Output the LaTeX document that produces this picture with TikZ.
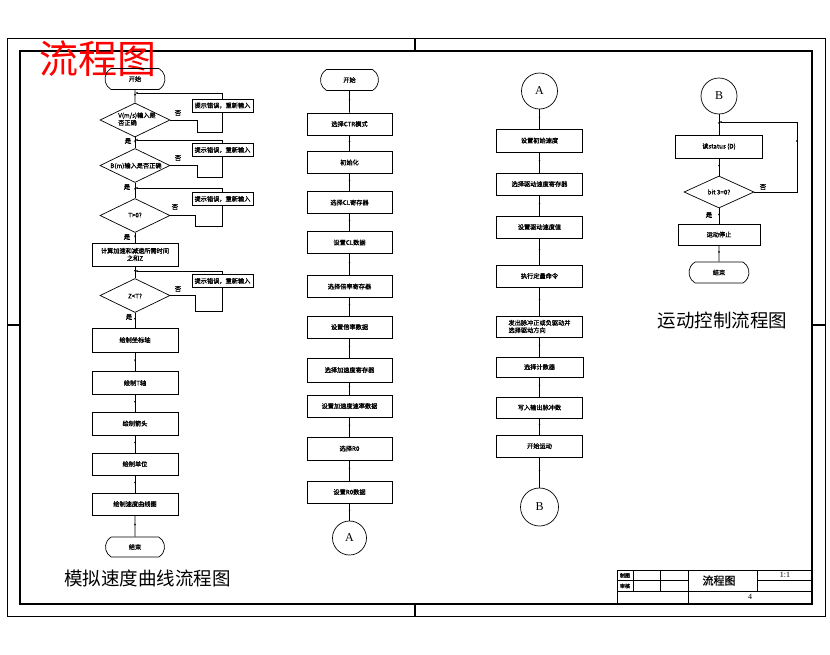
\documentclass[tikz,border=0pt]{standalone}
\usepackage{fontspec}
\setmainfont{Noto Sans CJK SC}
\newfontfamily\cjkb{Noto Sans CJK SC}[FakeBold=1.2]
\newfontfamily\serifA{Liberation Serif}
\usetikzlibrary{shapes.geometric,shapes.misc,decorations.markings,arrows.meta}
\begin{document}
\begin{tikzpicture}[x=1pt,y=-1pt,
 every node/.style={font=\cjkb\fontsize{6.2}{7.4}\selectfont, inner sep=0pt},
 box/.style={draw, fill=white, line width=0.7pt, minimum width=86pt, minimum height=22pt, align=center},
 tbox/.style={draw, fill=white, line width=0.7pt, minimum width=61pt, minimum height=13pt},
 dec/.style={draw, diamond, fill=white, line width=0.7pt, minimum width=70pt, minimum height=34pt},
 term/.style={draw, rounded rectangle, rounded rectangle arc length=120, line width=0.7pt, minimum width=60pt, minimum height=21pt},
 conn/.style={draw, circle, line width=0.7pt, minimum size=36pt, font=\serifA\fontsize{12}{12}\selectfont},
 link/.style={line width=0.7pt, postaction={decorate}, decoration={markings, mark=at position 0.5 with {\arrow{Latex[length=2.2pt,width=2pt]}}}},
 back/.style={link, -{Latex[length=2.5pt,width=2pt]}},
 lbl/.style={font=\cjkb\fontsize{6.5}{7}\selectfont},
 big/.style={font=\fontsize{18.5}{19}\selectfont}
]
\useasboundingbox (0,0) rectangle (830,654);
% frame
\draw[line width=0.8pt] (7,38) rectangle (825,616);
\draw[line width=1.6pt] (20,51) rectangle (812,604);
\draw[line width=1.6pt] (415,38) -- (415,51);
\draw[line width=1.6pt] (415,604) -- (415,616);
\draw[line width=1.6pt] (7,325) -- (20,325);
\draw[line width=1.6pt] (812,325) -- (825,325);

% titles
\node[text=red, font=\fontsize{39}{40}\selectfont] (t0) at (98,59) {流程图};
\node[big] (t1) at (147.5,578) {模拟速度曲线流程图};
\node[big] (t2) at (722.5,320) {运动控制流程图};

% ---------------- column 1 ----------------
\node[term] (s1) at (135,79) {开始};
\node[dec] (d1) at (135,120) {};
\node[dec] (d2) at (135,165.5) {};
\node[dec] (d3) at (135,215.5) {};
\node[box, minimum height=23pt] (c1) at (135,254.5) {计算加速和减速所需时间\\之和Z};
\node[dec] (d4) at (135,295.5) {};
\node[box, minimum height=24pt] (a1) at (135,340) {绘制坐标轴};
\node[box, minimum height=23pt] (a2) at (135,383) {绘制T轴};
\node[box, minimum height=23pt] (a3) at (135,423.5) {绘制箭头};
\node[box, minimum height=22pt] (a4) at (135,464) {绘制单位};
\node[box, minimum height=22pt] (a5) at (135,504) {绘制速度曲线图};
\node[term, minimum width=59pt, minimum height=20pt] (e1) at (135,547) {结束};

\coordinate (j1) at (135,93);
\coordinate (j2) at (135,140);
\coordinate (j3) at (135,188);
\coordinate (j4) at (135,271);

\draw[link] (s1) -- (d1.north);
\draw[link] (d1.south) -- (d2.north);
\draw[link] (d2.south) -- (d3.north);
\draw[link] (d3.south) -- (c1);
\draw[link] (c1) -- (d4.north);
\draw[link] (d4.south) -- (a1);
\draw[link] (a1) -- (a2);
\draw[link] (a2) -- (a3);
\draw[link] (a3) -- (a4);
\draw[link] (a4) -- (a5);
\draw[link] (a5) -- (e1);

\draw[back] (d1.east) -- (197,120) -- (197,132) -- (222,132) -- (222,93) -- (j1);
\draw[back] (d2.east) -- (197,165.5) -- (197,177) -- (222,177) -- (222,140) -- (j2);
\draw[back] (d3.east) -- (195,215.5) -- (195,226) -- (222,226) -- (222,188) -- (j3);
\draw[back] (d4.east) -- (195,295.5) -- (195,311) -- (222,311) -- (222,271) -- (j4);

\node[tbox] (b1) at (222.5,105.5) {提示错误，重新输入};
\node[tbox] (b2) at (222.5,150) {提示错误，重新输入};
\node[tbox] (b3) at (222.5,199) {提示错误，重新输入};
\node[tbox] (b4) at (222.5,281) {提示错误，重新输入};

\node[align=left] (d1t) at (137,119) {V(m/s)输入是\\否正确};
\node (d2t) at (136,166) {B(m)输入是否正确};
\node (d3t) at (135,215) {T>0?};
\node (d4t) at (135,296) {Z<T?};

\node[lbl] (n1) at (178,113) {否};
\node[lbl] (n2) at (178,158) {否};
\node[lbl] (n3) at (175,207) {否};
\node[lbl] (n4) at (178,289) {否};
\node[lbl] (y1) at (128,141) {是};
\node[lbl] (y2) at (127,187) {是};
\node[lbl] (y3) at (127,237) {是};
\node[lbl] (y4) at (129,317) {是};

% ---------------- column 2 ----------------
\node[term, minimum width=58pt] (s2) at (349.5,80) {开始};
\node[box, minimum width=85pt] (p1) at (349.5,124) {选择CTR模式};
\node[box, minimum width=85pt] (p2) at (349.5,162.5) {初始化};
\node[box, minimum width=85pt] (p3) at (349.5,202.5) {选择CL寄存器};
\node[box, minimum width=85pt] (p4) at (349.5,242.5) {设置CL数据};
\node[box, minimum width=85pt] (p5) at (349.5,286.5) {选择倍率寄存器};
\node[box, minimum width=85pt] (p6) at (349.5,327) {设置倍率数据};
\node[box, minimum width=85pt, minimum height=24pt] (p7) at (349.5,370) {选择加速度寄存器};
\node[box, minimum width=85pt] (p8) at (349.5,406) {设置加速度速率数据};
\node[box, minimum width=85pt, minimum height=23pt] (p9) at (349.5,448.5) {选择R0};
\node[box, minimum width=85pt] (p10) at (349.5,492) {设置R0数据};
\node[conn, minimum size=34pt] (A2) at (349.5,538) {A};
\draw[link] (s2) -- (p1);
\draw[link] (p1) -- (p2);
\draw[link] (p2) -- (p3);
\draw[link] (p3) -- (p4);
\draw[link] (p4) -- (p5);
\draw[link] (p5) -- (p6);
\draw[link] (p6) -- (p7);
\draw[link] (p7) -- (p8);
\draw[link] (p8) -- (p9);
\draw[link] (p9) -- (p10);
\draw[link] (p10) -- (A2);

% ---------------- column 3 ----------------
\node[conn] (A3) at (539.5,91) {A};
\node[box, minimum height=23pt] (q1) at (539.5,140.5) {设置初始速度};
\node[box] (q2) at (539.5,184) {选择驱动速度寄存器};
\node[box] (q3) at (539.5,227) {设置驱动速度值};
\node[box] (q4) at (539.5,276) {执行定量命令};
\node[box, minimum height=21pt, align=left] (q5) at (539.5,326.5) {发出脉冲正或负驱动并\\选择驱动方向};
\node[box, minimum height=20pt, minimum width=87pt] (q6) at (539.5,367) {选择计数器};
\node[box, minimum height=21pt] (q7) at (539.5,407.5) {写入输出脉冲数};
\node[box] (q8) at (539.5,446) {开始运动};
\node[conn, minimum size=38pt] (B3) at (539.5,507) {B};
\draw[link] (A3) -- (q1);
\draw[link] (q1) -- (q2);
\draw[link] (q2) -- (q3);
\draw[link] (q3) -- (q4);
\draw[link] (q4) -- (q5);
\draw[link] (q5) -- (q6);
\draw[link] (q6) -- (q7);
\draw[link] (q7) -- (q8);
\draw[link] (q8) -- (B3);

% ---------------- column 4 ----------------
\node[conn] (B4) at (719,96) {B};
\node[box, minimum width=87pt, minimum height=23pt] (r1) at (719,146.5) {读status (D)};
\node[dec, minimum height=32pt] (d5) at (719,192) {};
\node (d5t) at (719,192) {bit 3=0?};
\node[box, minimum width=82pt, minimum height=21pt] (r2) at (719,234.5) {运动停止};
\node[term] (e4) at (719,272.5) {结束};
\coordinate (j5) at (719,122);
\draw[link] (B4) -- (r1);
\draw[link] (r1) -- (d5.north);
\draw[link] (d5.south) -- (r2);
\draw[link] (r2) -- (e4);
\draw[back] (d5.east) -- (797,192) -- (797,122) -- (j5);
\node[lbl] (n5) at (763,187) {否};
\node[lbl] (y5) at (709,215) {是};

% ---------------- title block ----------------
\draw[line width=0.7pt] (617,570) -- (812,570);
\draw[line width=0.7pt] (617,570) -- (617,603);
\draw[line width=0.7pt] (617,580.5) -- (688,580.5);
\draw[line width=0.7pt] (757,580.5) -- (812,580.5);
\draw[line width=0.7pt] (617,591) -- (812,591);
\draw[line width=0.7pt] (633,570) -- (633,591);
\draw[line width=0.7pt] (660,570) -- (660,591);
\draw[line width=0.7pt] (688,570) -- (688,603);
\draw[line width=0.7pt] (757,570) -- (757,591);
\node[font=\cjkb\fontsize{5}{5}\selectfont] (tb1) at (625,575.5) {制图};
\node[font=\cjkb\fontsize{5}{5}\selectfont] (tb2) at (625,586) {审核};
\node[font=\cjkb\fontsize{11}{11}\selectfont] (tb3) at (719,580.5) {流程图};
\node[font=\serifA\fontsize{8}{8}\selectfont] (tb4) at (785,575) {1:1};
\node[font=\serifA\fontsize{8}{8}\selectfont] (tb5) at (750,597) {4};
\end{tikzpicture}
\end{document}
